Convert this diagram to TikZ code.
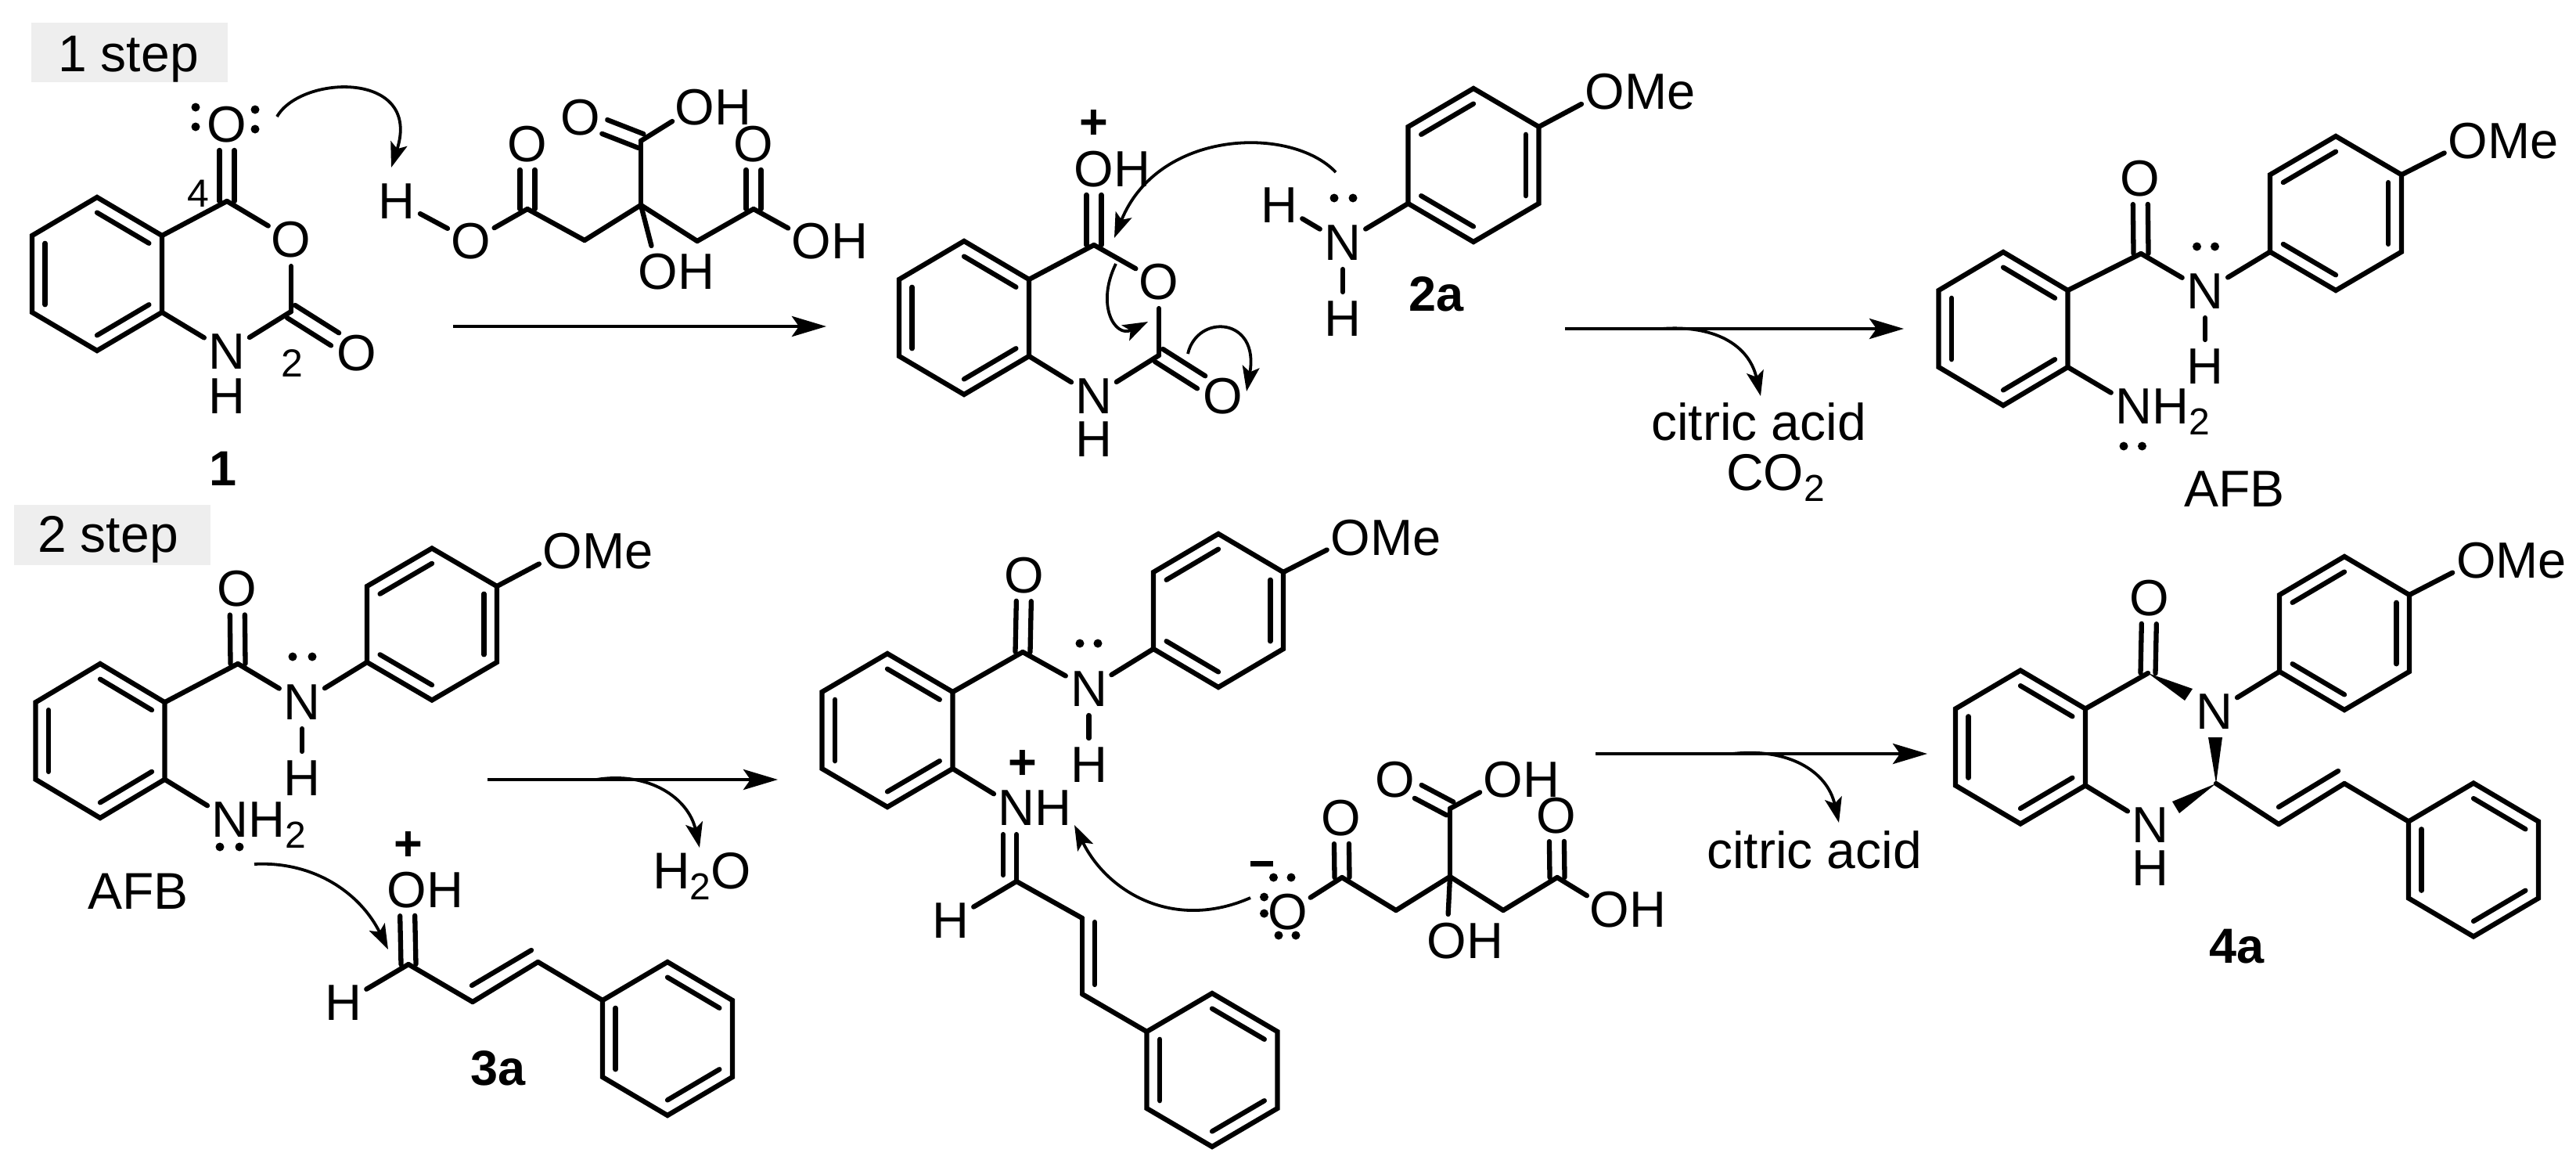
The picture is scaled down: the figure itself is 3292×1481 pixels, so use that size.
\documentclass[tikz,border=0pt]{standalone}
\usepackage{fontspec}
\setmainfont{Liberation Sans}
\usetikzlibrary{calc,arrows.meta}
\definecolor{stepgray}{HTML}{EEEEEE}
\tikzset{
  bondline/.style={line width=6.3pt,line cap=round,line join=miter},
  atom/.style={circle,inner sep=0pt,outer sep=0pt,minimum size=68pt,font=\fontsize{65}{70}\selectfont},
  lbl/.style={inner sep=0pt,outer sep=0pt,anchor=base west,font=\fontsize{66}{70}\selectfont},
  boldlbl/.style={inner sep=0pt,outer sep=0pt,anchor=base west,font=\fontsize{63}{70}\selectfont\bfseries},
  numlbl/.style={inner sep=0pt,outer sep=0pt,font=\fontsize{50}{55}\selectfont},
  chg/.style={inner sep=0pt,outer sep=0pt,font=\fontsize{63}{70}\selectfont\bfseries},
  lpdot/.style={circle,fill=black,inner sep=0pt,outer sep=0pt,minimum size=11pt},
  stepbox/.style={fill=stepgray,draw=none},
  rxn/.style={line width=4.8pt,-{Stealth[length=44pt,width=26pt,inset=9pt]}},
  curly/.style={line width=3.8pt,-{Stealth[length=32pt,width=22pt,inset=7pt]}},
  wedgefill/.style={fill=black,draw=none},
}
\newcommand{\hexa}[5]{%
  \coordinate (#1c) at (#2,#3);
  \coordinate (#11) at ({#2},{#3-#5});
  \coordinate (#12) at ({#2+#4},{#3-#5/2});
  \coordinate (#13) at ({#2+#4},{#3+#5/2});
  \coordinate (#14) at ({#2},{#3+#5});
  \coordinate (#15) at ({#2-#4},{#3+#5/2});
  \coordinate (#16) at ({#2-#4},{#3-#5/2});
  \draw[bondline] (#11)--(#12)--(#13)--(#14)--(#15)--(#16)--cycle;
}
\newcommand{\inb}[3]{\draw[bondline] ($(#1)!0.2!(#3)$) -- ($(#2)!0.2!(#3)$);}
\newcommand{\patA}[1]{\inb{#11}{#12}{#1c}\inb{#13}{#14}{#1c}\inb{#15}{#16}{#1c}}
\newcommand{\patB}[1]{\inb{#16}{#11}{#1c}\inb{#12}{#13}{#1c}\inb{#14}{#15}{#1c}}
\newcommand{\atm}[4]{\node[atom] (#1) at (#2,#3) {#4};}
\newcommand{\pnt}[3]{\coordinate (#1) at (#2,#3);}
\newcommand{\bnd}[2]{\draw[bondline] (#1) -- (#2);}
\newcommand{\dbl}[2]{%
  \draw[bondline,shorten >=33pt] ($(#1)!9.5pt!90:(#2)$) -- ($(#2)!9.5pt!-90:(#1)$);
  \draw[bondline,shorten >=33pt] ($(#1)!9.5pt!-90:(#2)$) -- ($(#2)!9.5pt!90:(#1)$);
}
\newcommand{\lpd}[3]{\node[lpdot] (#1) at (#2,#3) {};}
\newcommand{\subs}[1]{\raisebox{-14pt}{\fontsize{48}{48}\selectfont #1}}
\newcommand{\OH}{O\rlap{H}}
\newcommand{\OMe}{O\rlap{Me}}
\begin{document}
\begin{tikzpicture}[x=1pt,y=-1pt]
\useasboundingbox (0,0) rectangle (3292,1481);
% step boxes
\fill[stepbox] (40,29) rectangle (291,105);
\node[lbl] (stepA) at (74,91) {1 step};
\fill[stepbox] (18,645) rectangle (269,722);
\node[lbl] (stepB) at (48,705) {2 step};

% ---- compound 1
\hexa{a}{124}{350}{83}{98}\patA{a}
\pnt{aC4}{290}{257}\pnt{aC2}{372}{398}
\atm{aO1}{372}{306}{O}\atm{aN}{290}{449}{N}\atm{aH}{290}{506}{H}
\atm{aO2}{456}{451}{O}\atm{aO4}{290}{159}{O}
\bnd{a2}{aC4}\bnd{aC4}{aO1}\bnd{aO1}{aC2}\bnd{aC2}{aN}\bnd{aN}{a3}
\dbl{aC2}{aO2}\dbl{aC4}{aO4}
\node[numlbl] (aL4) at (253,247) {4};
\node[numlbl] (aL2) at (373,464) {2};
\lpd{aP1}{250}{137}\lpd{aP2}{250}{162}\lpd{aP3}{326}{140}\lpd{aP4}{326}{165}
\node[boldlbl] (cmpA) at (267,620) {1};

% ---- citric acid (step 1)
\atm{cH}{507}{257}{H}\atm{cO}{602}{308}{O}
\pnt{cC1}{674}{267}\atm{cO1}{674}{184}{O}\pnt{cM1}{747}{307}\pnt{cQ}{819}{262}
\pnt{cT}{819}{180}\atm{cO2}{742}{150}{O}\atm{cOH2}{888}{137}{\OH}
\pnt{cM2}{891}{308}\pnt{cC3}{963}{267}\atm{cO3}{963}{184}{O}\atm{cOH3}{1037}{308}{\OH}
\atm{cOHq}{841}{347}{\OH}
\bnd{cH}{cO}\bnd{cO}{cC1}\bnd{cC1}{cM1}\bnd{cM1}{cQ}\bnd{cQ}{cT}\bnd{cT}{cOH2}
\bnd{cQ}{cM2}\bnd{cM2}{cC3}\bnd{cC3}{cOH3}\bnd{cQ}{cOHq}
\dbl{cC1}{cO1}\dbl{cT}{cO2}\dbl{cC3}{cO3}

\pnt{ar1a}{354}{149}\pnt{ar1b}{500}{214}
\draw[curly] (ar1a) .. controls (385,95) and (540,90) .. (ar1b);
\pnt{rA1}{579}{417}\pnt{rA2}{1056}{417}
\draw[rxn] (rA1) -- (rA2);

% ---- protonated 1
\hexa{b}{1232}{406}{83}{98}\patA{b}
\pnt{bC4}{1398}{313}\pnt{bC2}{1481}{454}
\atm{bO1}{1481}{360}{O}\atm{bN}{1398}{506}{N}\atm{bH}{1398}{561}{H}
\atm{bO2}{1563}{506}{O}\atm{bO4}{1398}{216}{\OH}
\node[chg] (bPl) at (1398,159) {+};
\bnd{b2}{bC4}\bnd{bC4}{bO1}\bnd{bO1}{bC2}\bnd{bC2}{bN}\bnd{bN}{b3}
\dbl{bC2}{bO2}\dbl{bC4}{bO4}

% ---- 2a
\hexa{d}{1883}{211}{83.5}{98}\patB{d}
\atm{dO}{2051}{117}{\OMe}\atm{dN}{1716}{310}{N}\atm{dH1}{1635}{262}{H}\atm{dH2}{1716}{407}{H}
\bnd{d2}{dO}\bnd{d5}{dN}\bnd{dN}{dH1}\bnd{dN}{dH2}
\lpd{dP1}{1705}{253}\lpd{dP2}{1729}{253}
\node[boldlbl] (cmpB) at (1800,397) {2a};

\pnt{ar2a}{1707}{220}\pnt{ar2b}{1424}{304}
\draw[curly] (ar2a) .. controls (1650,160) and (1480,165) .. (ar2b);
\pnt{ar3a}{1426}{337}\pnt{ar3b}{1467}{411}
\draw[curly] (ar3a) .. controls (1400,390) and (1425,432) .. (ar3b);
\pnt{ar4a}{1518}{452}\pnt{ar4b}{1593}{500}
\draw[curly] (ar4a) .. controls (1530,400) and (1610,405) .. (ar4b);

\pnt{rB1}{2000}{420}\pnt{rB2}{2433}{420}\pnt{rB3}{2124}{420}\pnt{rB4}{2250}{506}
\draw[rxn] (rB1) -- (rB2);
\draw[curly] (rB3) .. controls (2190,415) and (2235,440) .. (rB4);
\node[lbl] (tB1) at (2110,562) {citric acid};
\node[lbl] (tB2) at (2206,626) {CO\subs{2}};

% ---- AFB (top)
\hexa{e}{2560}{420}{82.5}{98}\patA{e}
\pnt{eC}{2736}{324}\atm{eO}{2735}{228}{O}\atm{eN}{2818}{372}{N}\atm{eH}{2818}{468}{H}
\atm{eNH}{2727}{519}{N\rlap{\smash{H\subs{2}}}}
\bnd{e2}{eC}\bnd{eC}{eN}\bnd{eN}{eH}\bnd{e3}{eNH}\dbl{eC}{eO}
\lpd{eP1}{2807.5}{315}\lpd{eP2}{2830.5}{315}\lpd{eP3}{2714}{570}\lpd{eP4}{2737.5}{570}
\hexa{f}{2985}{272.5}{84}{98.5}\patB{f}
\atm{fO}{3154}{180}{\OMe}
\bnd{eN}{f5}\bnd{f2}{fO}
\node[lbl] (tAFB1) at (2791,647) {AFB};

% ---- AFB (bottom)
\hexa{g}{128}{946.5}{82.5}{98.5}\patA{g}
\pnt{gC}{304}{848}\atm{gO}{303}{752.5}{O}\atm{gN}{386}{897}{N}\atm{gH}{386}{994}{H}
\atm{gNH}{294}{1047}{N\rlap{\smash{H\subs{2}}}}
\bnd{g2}{gC}\bnd{gC}{gN}\bnd{gN}{gH}\bnd{g3}{gNH}\dbl{gC}{gO}
\lpd{gP1}{374}{839}\lpd{gP2}{399}{839}\lpd{gP3}{281}{1082}\lpd{gP4}{306}{1082}
\hexa{h}{552}{797.5}{83}{97}\patB{h}
\atm{hO}{719}{704.5}{\OMe}
\bnd{gN}{h5}\bnd{h2}{hO}
\node[lbl] (tAFB2) at (112,1161) {AFB};

\pnt{ar5a}{325}{1104}\pnt{ar5b}{496}{1213}
\draw[curly] (ar5a) .. controls (400,1100) and (460,1140) .. (ar5b);

% ---- 3a
\pnt{iC}{522}{1232}\atm{iO}{520}{1137}{\OH}\atm{iH}{439}{1281}{H}
\node[chg] (iPl) at (522,1081) {+};
\pnt{iA}{604}{1280}\pnt{iB}{687.5}{1229}\pnt{iD1}{603}{1259}\pnt{iD2}{679}{1214}
\hexa{j}{853}{1327}{83}{98}\patA{j}
\bnd{iC}{iH}\bnd{iC}{iA}\bnd{iA}{iB}\bnd{iD1}{iD2}\bnd{iB}{j6}\dbl{iC}{iO}
\node[boldlbl] (cmpC) at (601,1386) {3a};

\pnt{rC1}{623}{996}\pnt{rC2}{994}{996}\pnt{rC3}{762}{996}\pnt{rC4}{894}{1083}
\draw[rxn] (rC1) -- (rC2);
\draw[curly] (rC3) .. controls (830,985) and (880,1020) .. (rC4);
\node[lbl] (tC1) at (834,1135) {H\subs{2}O};

% ---- iminium intermediate
\hexa{k}{1134}{933}{83.5}{98}\patA{k}
\pnt{kC}{1307}{833}\atm{kO}{1309}{735}{O}\atm{kN}{1391.5}{880}{N}\atm{kH}{1391.5}{977}{H}
\bnd{k2}{kC}\bnd{kC}{kN}\bnd{kN}{kH}\dbl{kC}{kO}
\lpd{kP1}{1380}{822}\lpd{kP2}{1403}{822}
\hexa{l}{1557}{780}{83}{98}\patB{l}
\atm{lO}{1726}{687}{\OMe}
\bnd{kN}{l5}\bnd{l2}{lO}
\atm{kNp}{1299}{1032}{N\rlap{H}}
\node[chg] (kPl) at (1307,977) {+};
\pnt{kI}{1299}{1126}\atm{kIH}{1215}{1176}{H}
\pnt{kI2a}{1282}{1066}\pnt{kI2b}{1282}{1118}
\bnd{k3}{kNp}\bnd{kNp}{kI}\bnd{kI2a}{kI2b}\bnd{kI}{kIH}
\pnt{kA}{1383}{1173}\pnt{kB}{1383}{1270}\pnt{kD1}{1399}{1178}\pnt{kD2}{1399}{1258}
\hexa{m}{1549}{1367}{83.5}{98}\patA{m}
\bnd{kI}{kA}\bnd{kA}{kB}\bnd{kD1}{kD2}\bnd{kB}{m6}

% ---- citrate
\atm{nO}{1646}{1165}{O}
\node[chg] (nMi) at (1612,1103) {\rule{29pt}{7pt}};
\lpd{nP1}{1627.5}{1121}\lpd{nP2}{1650}{1121}\lpd{nP3}{1615.5}{1146}\lpd{nP4}{1615.5}{1167}
\lpd{nP5}{1634}{1195}\lpd{nP6}{1656}{1195}
\pnt{nC1}{1715}{1121}\atm{nO1}{1714}{1045}{O}\pnt{nM1}{1784}{1163}\pnt{nQ}{1853}{1120}
\pnt{nT}{1853}{1033}\atm{nO2}{1783}{996}{O}\atm{nOH2}{1921}{996}{\OH}
\pnt{nM2}{1921}{1163}\pnt{nC3}{1990}{1121}\atm{nO3}{1989}{1042}{O}\atm{nOH3}{2057}{1162}{\OH}
\atm{nOHq}{1849}{1202}{\OH}
\bnd{nO}{nC1}\bnd{nC1}{nM1}\bnd{nM1}{nQ}\bnd{nQ}{nT}\bnd{nT}{nOH2}
\bnd{nQ}{nM2}\bnd{nM2}{nC3}\bnd{nC3}{nOH3}\bnd{nQ}{nOHq}
\dbl{nC1}{nO1}\dbl{nT}{nO2}\dbl{nC3}{nO3}

\pnt{ar6a}{1598}{1147}\pnt{ar6b}{1373}{1054}
\draw[curly] (ar6a) .. controls (1500,1190) and (1415,1140) .. (ar6b);

\pnt{rD1}{2039}{963}\pnt{rD2}{2463}{963}\pnt{rD3}{2214}{963}\pnt{rD4}{2350}{1051}
\draw[rxn] (rD1) -- (rD2);
\draw[curly] (rD3) .. controls (2285,955) and (2335,985) .. (rD4);
\node[lbl] (tD1) at (2181,1109) {citric acid};

% ---- 4a
\hexa{p}{2582}{954.5}{83}{98}\patA{p}
\pnt{pC4}{2745}{860}\atm{pO}{2747}{764}{O}\atm{pN3}{2830}{909}{N}\pnt{pC2}{2832}{1001}
\atm{pN1}{2748}{1054}{N}\atm{pH}{2748}{1109}{H}
\bnd{p2}{pC4}\bnd{p3}{pN1}\dbl{pC4}{pO}
\pnt{pW1a}{2802}{880}\pnt{pW1b}{2792}{895}
\pnt{pW2a}{2822}{942}\pnt{pW2b}{2840}{942}
\pnt{pW3a}{2776}{1024}\pnt{pW3b}{2785}{1039}
\fill[wedgefill] (pC4) -- (pW1a) -- (pW1b) -- cycle;
\fill[wedgefill] (pC2) -- (pW2a) -- (pW2b) -- cycle;
\fill[wedgefill] (pC2) -- (pW3a) -- (pW3b) -- cycle;
\hexa{q}{2996}{809}{83}{98}\patB{q}
\atm{qO}{3164.5}{716}{\OMe}
\bnd{pN3}{q5}\bnd{q2}{qO}
\pnt{pA}{2912}{1053}\pnt{pB}{2996}{1001}\pnt{pD1}{2912}{1031}\pnt{pD2}{2988}{985}
\hexa{r}{3161}{1098.5}{83}{98}\patA{r}
\bnd{pC2}{pA}\bnd{pA}{pB}\bnd{pD1}{pD2}\bnd{pB}{r6}
\node[boldlbl] (cmpD) at (2823,1230) {4a};
\end{tikzpicture}
\end{document}
